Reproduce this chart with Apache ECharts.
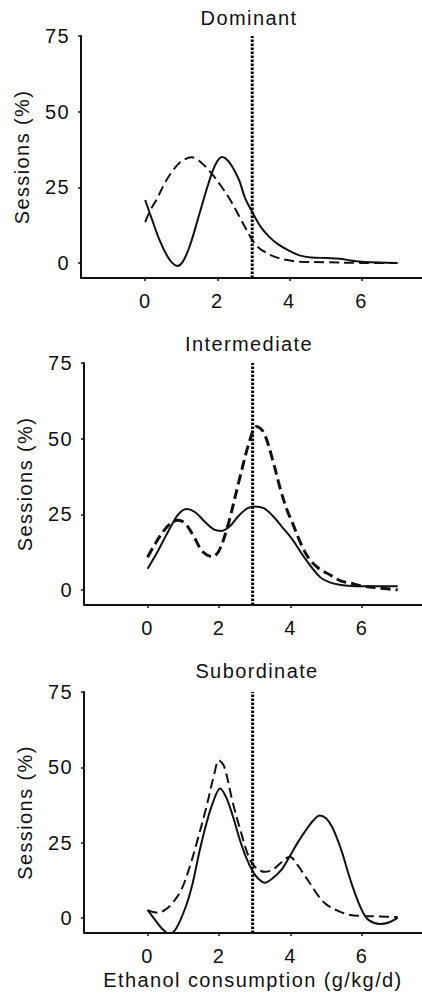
<!DOCTYPE html>
<html>
<head>
<meta charset="utf-8">
<script src="https://cdn.jsdelivr.net/npm/echarts@6/dist/echarts.min.js"></script>
<style>
html,body{margin:0;padding:0;background:#fff;}
#chart{width:422px;height:998px;}
#chart text{letter-spacing:1.4px !important;}
</style>
</head>
<body>
<div id="chart"></div>
<script>
// 三个面板的标题
var panelTitles = ['Dominant', 'Intermediate', 'Subordinate'];
var xTicks = [0, 2, 4, 6];
var yTicks = [0, 25, 50, 75];
// 点线位置（切分点）
var cutoffX = [2.97, 2.94, 2.94];

// Dominant
var domSolid = [[0,20.8],[0.2,14],[0.4,7.5],[0.6,2.5],[0.75,0],[0.89,-1],[1.05,0.5],[1.25,6],[1.5,16],[1.75,26],[1.95,32.5],[2.13,35],[2.35,33],[2.6,27.5],[2.77,21.5],[2.97,16.8],[3.2,12],[3.45,8.5],[3.67,6.3],[4,4],[4.3,2.4],[4.6,1.8],[5.05,1.6],[5.4,1.4],[5.7,0.8],[6,0.4],[6.5,0.1],[7,0]];
var domDash = [[0,13.5],[0.15,17.5],[0.32,21],[0.55,26.5],[0.78,30.7],[1.0,33.5],[1.29,34.9],[1.55,33.2],[1.84,29.6],[2.1,25.5],[2.35,21],[2.65,14.5],[2.97,7.6],[3.15,5],[3.36,3.3],[3.6,2],[3.9,1],[4.3,0.4],[5,0.2],[6,0],[7,0]];

// Intermediate
var intSolid = [[0,7],[0.25,12],[0.5,17.6],[0.75,23],[0.9,25.5],[1.09,26.7],[1.35,25.5],[1.6,22.5],[1.85,20],[2.07,19.5],[2.3,21],[2.55,24.5],[2.8,27],[3.0,27.6],[3.25,27],[3.5,24.5],[3.75,21],[4.06,16.5],[4.4,10.5],[4.82,4.3],[5.1,2.5],[5.38,1.7],[5.7,1.3],[6,1.2],[6.5,1.2],[7,1.2]];
var intDash = [[0,10.8],[0.2,15],[0.45,19.5],[0.65,22],[0.85,23],[1.05,22],[1.3,17.5],[1.55,12.5],[1.82,11],[2.0,13],[2.24,21],[2.58,37],[2.85,49],[3.05,54],[3.25,52],[3.5,43],[3.7,34],[3.9,26.5],[4.06,22],[4.3,15],[4.54,10],[4.8,7],[5.1,5],[5.4,3],[5.66,2.3],[6,1.3],[6.5,0.6],[7,0]];

// Subordinate
var subSolid = [[0,2.7],[0.2,-0.5],[0.4,-3.5],[0.61,-5.3],[0.8,-3.5],[1.07,3.8],[1.25,11],[1.45,22],[1.65,31.5],[1.82,38],[2.03,43],[2.2,40],[2.38,34],[2.58,26],[2.76,20],[2.94,15.5],[3.1,13],[3.28,11.7],[3.5,13.2],[3.75,16],[3.98,20.5],[4.2,25],[4.44,29.3],[4.65,32.5],[4.82,34],[5.0,33],[5.15,30.5],[5.3,26.5],[5.45,21.5],[5.6,15.5],[5.75,10],[5.9,5.2],[6.03,1.8],[6.2,-0.8],[6.5,-2],[6.75,-1.5],[7,0]];
var subDash = [[0,2.5],[0.3,1.7],[0.5,2.8],[0.7,5],[0.95,9.5],[1.18,17],[1.4,26],[1.65,37],[1.85,47],[2.0,52.3],[2.15,50],[2.38,38.5],[2.6,29],[2.86,19.5],[3.05,16.5],[3.28,15.3],[3.5,16],[3.75,18.5],[3.98,20.3],[4.2,17.5],[4.4,14],[4.6,10.5],[4.8,7],[5.0,4.5],[5.3,2.5],[5.66,1],[6,0.7],[6.5,0.5],[7,0.3]];

var solidData = [domSolid, intSolid, subSolid];
var dashData = [domDash, intDash, subDash];
var dashWidth = [2, 3, 2];

/*每个面板的位置*/
var grids = [
    {left: 81, top: 36, right: 0, height: 242},
    {left: 84, top: 363, right: 0, height: 242},
    {left: 84, top: 692, right: 0, height: 241}
];
var titleTops = [8, 334, 661];
var titleLefts = [249, 249, 257];

var fontFamily = 'Liberation Sans, Arial, sans-serif';
var ink = '#111';

var chart = echarts.init(document.getElementById('chart'), null, {renderer: 'svg'});

var titles = [], xAxes = [], yAxes = [], series = [];
for (var i = 0; i < 3; i++) {
    titles.push({
        text: panelTitles[i],
        left: titleLefts[i],
        top: titleTops[i],
        textAlign: 'center',
        padding: 0,
        textStyle: {fontSize: 20, fontWeight: 'normal', color: ink, fontFamily: fontFamily}
    });
    xAxes.push({
        type: 'value',
        gridIndex: i,
        min: -1.78,
        max: 7.68,
        splitLine: {show: false},
        axisLine: {onZero: false, lineStyle: {color: ink, width: 2}},
        axisTick: {show: true, length: 3, lineStyle: {color: ink, width: 1.5}, customValues: xTicks},
        axisLabel: {color: ink, fontSize: 20, fontFamily: fontFamily, margin: 13, customValues: xTicks},
        name: i === 2 ? 'Ethanol consumption (g/kg/d)' : '',
        nameLocation: 'middle',
        nameGap: 37,
        nameTextStyle: {color: ink, fontSize: 20, fontFamily: fontFamily}
    });
    yAxes.push({
        type: 'value',
        gridIndex: i,
        min: -5,
        max: 75,
        splitLine: {show: false},
        axisLine: {show: true, onZero: false, lineStyle: {color: ink, width: 2}},
        axisTick: {show: true, length: 3, lineStyle: {color: ink, width: 1.5}, customValues: yTicks},
        axisLabel: {color: ink, fontSize: 20, fontFamily: fontFamily, margin: 11, customValues: yTicks},
        name: 'Sessions (%)',
        nameLocation: 'middle',
        nameGap: 49,
        nameTextStyle: {color: ink, fontSize: 20, fontFamily: fontFamily}
    });
    series.push({
        type: 'line', xAxisIndex: i, yAxisIndex: i,
        data: solidData[i], smooth: 0.35, symbol: 'none',
        lineStyle: {color: ink, width: 2}
    });
    series.push({
        type: 'line', xAxisIndex: i, yAxisIndex: i,
        data: dashData[i], smooth: 0.35, symbol: 'none',
        lineStyle: {color: ink, width: dashWidth[i], type: [10, 5]}
    });
    series.push({
        type: 'line', xAxisIndex: i, yAxisIndex: i,
        data: [[cutoffX[i], -5], [cutoffX[i], 75]], symbol: 'none',
        lineStyle: {color: '#000', width: 3, type: [2.5, 1.5]}
    });
}

chart.setOption({
    animation: false,
    backgroundColor: '#fff',
    title: titles,
    grid: grids,
    xAxis: xAxes,
    yAxis: yAxes,
    series: series
});
</script>
</body>
</html>
